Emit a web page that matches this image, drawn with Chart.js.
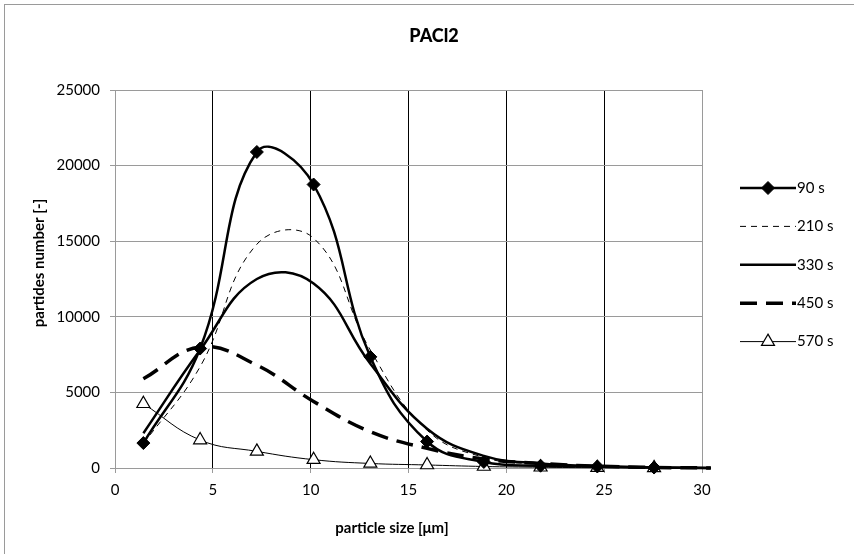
<!DOCTYPE html>
<html><head><meta charset="utf-8">
<script src="https://cdn.jsdelivr.net/npm/chart.js@4"></script>
<style>html,body{margin:0;padding:0;background:#fff}#wrap{width:854px;height:554px}</style>
</head><body><div id="wrap"><canvas id="c" width="854" height="554"></canvas></div>
<script>
const chartTitle = 'PACl2';
const xTitle = 'particle size [μm]';
const yTitle = 'partides number [-]';
const seriesNames = ['90 s', '210 s', '330 s', '450 s', '570 s'];
const particleSize = [1.45, 4.35, 7.25, 10.15, 13.05, 15.95, 18.85, 21.75, 24.65, 27.55, 30.45];
const count90  = [1650, 7900, 20900, 18750, 7350, 1750, 400, 150, 100, 30, 0];
const count210 = [1600, 6700, 14800, 15200, 7800, 2500, 700, 250, 100, 40, 0];
const count330 = [2300, 7800, 12500, 12200, 6900, 2600, 800, 300, 120, 40, 0];
const count450 = [5900, 8000, 6800, 4400, 2400, 1300, 600, 300, 120, 40, 0];
const count570 = [4250, 1850, 1100, 550, 300, 200, 100, 50, 20, 10, 0];
const xTicks = [0, 5, 10, 15, 20, 25, 30];
const yTicks = [0, 5000, 10000, 15000, 20000, 25000];

const FONT = 'Lato';
const GRAY = '#9a9a9a';
const TENSION = 0.42;
const lastIdx = particleSize.length - 1;
const toPts = arr => particleSize.map((x, i) => ({ x: x, y: arr[i] }));
const rad = r => ctx => (ctx.dataIndex === lastIdx ? 0 : r);

const datasets = [
  { label: seriesNames[0], data: toPts(count90), borderColor: '#000', borderWidth: 2.5,
    pointStyle: 'rectRot', pointRadius: rad(6.5), pointBackgroundColor: '#000', pointBorderColor: '#000', pointBorderWidth: 1 },
  { label: seriesNames[1], data: toPts(count210), borderColor: '#000', borderWidth: 1, borderDash: [6, 5], pointRadius: 0 },
  { label: seriesNames[2], data: toPts(count330), borderColor: '#000', borderWidth: 2.5, pointRadius: 0 },
  { label: seriesNames[3], data: toPts(count450), borderColor: '#000', borderWidth: 3.5, borderDash: [17, 9], pointRadius: 0 },
  { label: seriesNames[4], data: toPts(count570), borderColor: '#000', borderWidth: 1,
    pointStyle: 'triangle', pointRadius: rad(7.5), pointBackgroundColor: '#fff', pointBorderColor: '#000', pointBorderWidth: 1.2 }
].map(d => Object.assign({ fill: false, tension: TENSION, clip: 12, pointHoverRadius: 0 }, d));

const overlay = {
  id: 'overlay',
  beforeDraw(chart) {
    const c = chart.ctx;
    c.save();
    c.strokeStyle = GRAY; c.lineWidth = 1;
    c.strokeRect(4.5, 4.5, 900, 600);
    c.restore();
  },
  afterDraw(chart) {
    const c = chart.ctx;
    c.save();
    c.fillStyle = '#000';
    c.textBaseline = 'middle';
    c.textAlign = 'center';
    c.font = '900 18px ' + FONT;
    c.fillText(chartTitle, 434, 36);
    c.font = 'bold 15px ' + FONT;
    c.fillText(xTitle, 392, 528);
    c.save();
    c.translate(39, 263);
    c.rotate(-Math.PI / 2);
    c.fillText(yTitle, 0, 0);
    c.restore();
    // legend
    chart.data.datasets.forEach((ds, i) => {
      const y = 188 + i * 38.4;
      c.save();
      c.strokeStyle = ds.borderColor; c.lineWidth = ds.borderWidth;
      c.setLineDash(ds.borderDash || []);
      c.beginPath(); c.moveTo(740, y); c.lineTo(796, y); c.stroke();
      c.restore();
      if (ds.pointStyle) {
        c.save();
        c.fillStyle = ds.pointBackgroundColor; c.strokeStyle = ds.pointBorderColor;
        c.lineWidth = ds.pointBorderWidth;
        Chart.helpers.drawPoint(c, { pointStyle: ds.pointStyle, radius: ds.pointStyle === 'triangle' ? 7.5 : 6.5, rotation: 0, borderWidth: ds.pointBorderWidth }, 768, y);
        c.restore();
      }
      c.font = '15px ' + FONT;
      c.textAlign = 'left';
      c.fillStyle = '#000';
      c.fillText(ds.label, 797, y);
    });
    c.restore();
  }
};

new Chart(document.getElementById('c'), {
  type: 'line',
  data: { datasets: datasets },
  options: {
    responsive: false, animation: false, devicePixelRatio: 1,
    layout: { padding: { left: 28, right: 152, top: 90, bottom: 18 } },
    plugins: { legend: { display: false }, title: { display: false }, tooltip: { enabled: false } },
    scales: {
      x: {
        type: 'linear', min: 0, max: 30,
        afterBuildTicks: s => { s.ticks = xTicks.map(v => ({ value: v })); },
        afterFit: s => { s.height = 68; },
        ticks: { font: { family: FONT, size: 15 }, color: '#000', padding: 8, maxRotation: 0, callback: v => String(v) },
        grid: {
          color: ctx => (ctx.tick && (ctx.tick.value === 0 || ctx.tick.value === 30)) ? GRAY : '#000',
          lineWidth: 1, tickLength: 5, tickColor: GRAY
        },
        border: { color: GRAY, width: 1 }
      },
      y: {
        type: 'linear', min: 0, max: 25000,
        afterBuildTicks: s => { s.ticks = yTicks.map(v => ({ value: v })); },
        afterFit: s => { s.width = 87; },
        ticks: { font: { family: FONT, size: 15 }, color: '#000', padding: 10, callback: v => String(v) },
        grid: { color: GRAY, lineWidth: 1, tickLength: 5, tickColor: GRAY },
        border: { color: GRAY, width: 1 }
      }
    }
  },
  plugins: [overlay]
});
</script>
</body></html>
